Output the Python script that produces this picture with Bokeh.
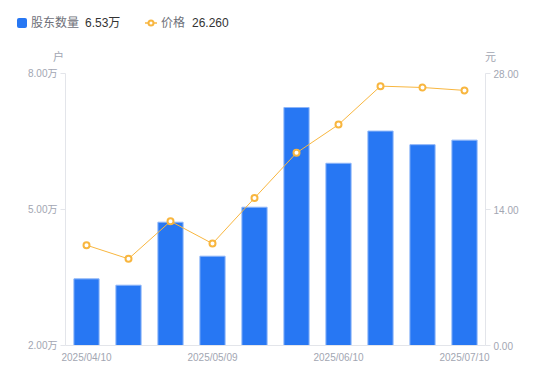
from bokeh.plotting import figure
from bokeh.layouts import column
from bokeh.models import (Range1d, LinearAxis, FixedTicker, PrintfTickFormatter,
                          ColumnDataSource, Div)
from bokeh.embed import file_html
from bokeh.resources import INLINE

# ---- data ----
dates = ["2025/04/10", "2025/04/18", "2025/04/30", "2025/05/09", "2025/05/20",
         "2025/05/30", "2025/06/10", "2025/06/20", "2025/06/30", "2025/07/10"]
holders = [3.47, 3.33, 4.72, 3.97, 5.05, 7.25, 6.02, 6.73, 6.43, 6.53]   # 万户
prices = [10.33, 8.92, 12.79, 10.49, 15.18, 19.83, 22.74, 26.70, 26.56, 26.26]  # 元
shown_dates = ["2025/04/10", "2025/05/09", "2025/06/10", "2025/07/10"]
left_ticks = [2, 5, 8]
right_ticks = [0, 14, 28]
holders_name = "股东数量"
holders_value = "6.53万"
price_name = "价格"
price_value = "26.260"
left_unit = "户"
right_unit = "元"

BLUE = "#2777f3"
ORANGE = "#f8b63f"
AXIS = "#e3e5ea"
TICK_TXT = "#a2a6b2"
NAME_TXT = "#6e7079"
VALUE_TXT = "#333333"
FONT = "Liberation Sans, Noto Sans CJK SC, sans-serif"

idx = list(range(len(dates)))
src = ColumnDataSource(dict(i=idx, date=dates, holders=holders, price=prices))

W = 534
TOP_H = 64
MAIN_H = 301

# ---------------- main chart ----------------
p = figure(width=W, height=MAIN_H, x_range=Range1d(-0.5, len(dates) - 0.5),
           y_range=Range1d(left_ticks[0], left_ticks[-1]),
           output_backend="svg", toolbar_location=None,
           min_border_left=65, min_border_right=49, min_border_top=9, min_border_bottom=19)
p.outline_line_color = None
p.xgrid.visible = False
p.ygrid.visible = False
p.extra_y_ranges = {"price": Range1d(right_ticks[0], right_ticks[-1])}

p.vbar(x="i", top="holders", bottom=left_ticks[0], width=0.6, source=src,
       fill_color=BLUE, line_color="#8db5f8", line_width=1)
p.line(x="i", y="price", y_range_name="price", source=src, line_color=ORANGE, line_width=1)
p.scatter(x="i", y="price", y_range_name="price", source=src, marker="circle",
          size=6, fill_color="white", line_color=ORANGE, line_width=2)

def style_y(ax):
    ax.axis_line_color = AXIS
    ax.major_tick_line_color = AXIS
    ax.major_tick_in = 0
    ax.major_tick_out = 5
    ax.minor_tick_line_color = None
    ax.major_label_text_color = TICK_TXT
    ax.major_label_text_font_size = "10px"
    ax.major_label_text_font = FONT
    ax.major_label_standoff = 3

ya = p.yaxis[0]
ya.ticker = FixedTicker(ticks=left_ticks)
ya.formatter = PrintfTickFormatter(format="%.2f万")
style_y(ya)

ra = LinearAxis(y_range_name="price", ticker=FixedTicker(ticks=right_ticks),
                formatter=PrintfTickFormatter(format="%.2f"))
style_y(ra)
p.add_layout(ra, "right")

xa = p.xaxis[0]
xa.ticker = FixedTicker(ticks=[dates.index(d) for d in shown_dates])
xa.major_label_overrides = {dates.index(d): d for d in shown_dates}
xa.axis_line_color = AXIS
xa.major_tick_line_color = None
xa.minor_tick_line_color = None
xa.major_tick_in = 0
xa.major_tick_out = 0
xa.major_label_text_color = TICK_TXT
xa.major_label_text_font_size = "10px"
xa.major_label_text_font = FONT
xa.major_label_standoff = 6

# ---------------- legend strip (HTML) ----------------
def span(left, top, txt, size, color, extra=""):
    return (f'<span style="position:absolute;left:{left}px;top:{top}px;font-size:{size}px;'
            f'line-height:16px;white-space:nowrap;color:{color};{extra}">{txt}</span>')

html = (
    f'<div style="position:relative;width:{W}px;height:{TOP_H}px;font-family:{FONT};">'
    f'<span style="position:absolute;left:17px;top:18px;width:10px;height:10px;'
    f'background:{BLUE};border-radius:2px;"></span>'
    + span(31, 15, holders_name, 12, NAME_TXT)
    + span(85, 15, holders_value, 12, VALUE_TXT)
    + f'<svg style="position:absolute;left:145px;top:18px;" width="12" height="10">'
      f'<line x1="0" y1="5" x2="12" y2="5" stroke="{ORANGE}" stroke-width="1.5"/>'
      f'<circle cx="6" cy="5" r="2.5" fill="white" stroke="{ORANGE}" stroke-width="2"/></svg>'
    + span(161, 15, price_name, 12, NAME_TXT)
    + span(192, 15, price_value, 12, VALUE_TXT)
    + span(53, 49, left_unit, 11, TICK_TXT)
    + span(485, 49, right_unit, 11, TICK_TXT)
    + '</div>'
)
top = Div(text=html, width=W, height=TOP_H, margin=0)

layout = column(top, p, spacing=0)
open("out.html", "w").write(file_html(layout, INLINE))
